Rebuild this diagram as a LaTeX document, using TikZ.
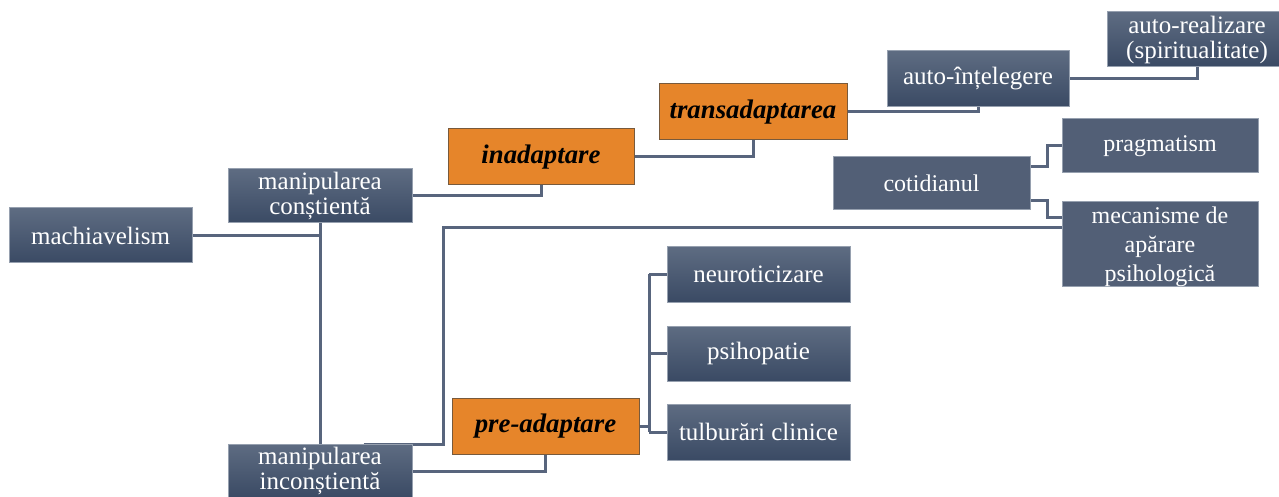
\documentclass[tikz,border=0pt]{standalone}
\usepackage{fontspec}
\setmainfont{Liberation Serif}
\usetikzlibrary{calc}
\pgfdeclarelayer{bg}
\pgfsetlayers{bg,main}
\definecolor{linec}{RGB}{88,101,125}
\definecolor{gtop}{RGB}{94,108,130}
\definecolor{gbot}{RGB}{58,74,100}
\definecolor{flatc}{RGB}{82,95,118}
\definecolor{orangec}{RGB}{230,133,42}
\definecolor{oborder}{RGB}{120,90,60}
\definecolor{bborder}{RGB}{150,160,175}
\tikzset{
  gbox/.style={rectangle, draw=bborder, line width=0.5pt, top color=gtop, bottom color=gbot,
    text=white, align=center, inner sep=0pt, font=\fontsize{12.5}{12.5}\selectfont},
  fbox/.style={rectangle, draw=bborder, line width=0.5pt, fill=flatc,
    text=white, align=center, inner sep=0pt, font=\fontsize{12}{14.5}\selectfont},
  obox/.style={rectangle, draw=oborder, line width=0.5pt, fill=orangec,
    text=black, align=center, inner sep=0pt, font=\fontsize{13.4}{14}\selectfont\bfseries\itshape},
  conn/.style={draw=linec, line width=1.5pt},
}
\begin{document}
\begin{tikzpicture}[x=0.5pt,y=-0.5pt]
\useasboundingbox (0,0) rectangle (1279,497);
% nodes
\node[gbox, minimum width=91.5pt, minimum height=27.5pt] (mach) at (100.5,235.5) {machiavelism};
\node[gbox, minimum width=92pt, minimum height=27pt] (consc) at (320,196) {manipularea\\conștientă};
\node[gbox, minimum width=92pt, minimum height=27pt] (inconsc) at (320,471) {manipularea\\inconștientă};
\node[obox, minimum width=93pt, minimum height=28pt] (inad) at (541,157) {inadaptare};
\node[obox, minimum width=94pt, minimum height=28pt] (trans) at (753,112) {transadaptarea};
\node[obox, minimum width=93.5pt, minimum height=28pt] (pre) at (545.5,426) {pre-adaptare};
\node[gbox, minimum width=91pt, minimum height=28pt] (autoint) at (978,79) {auto-înțelegere};
\node[gbox, minimum width=90pt, minimum height=27.5pt] (autoreal) at (1197,39.5) {auto-realizare\\(spiritualitate)};
\node[fbox, minimum width=98.5pt, minimum height=26.5pt] (cot) at (931.5,183.5) {cotidianul};
\node[fbox, minimum width=98pt, minimum height=27pt] (prag) at (1160,146) {pragmatism};
\node[fbox, minimum width=98pt, minimum height=42pt, text depth=-3pt] (mec) at (1160,244) {mecanisme de\\apărare\\psihologică};
\node[gbox, minimum width=91.5pt, minimum height=27.5pt] (neuro) at (758.5,274.5) {neuroticizare};
\node[gbox, minimum width=91.5pt, minimum height=27.5pt] (psih) at (758.5,353.5) {psihopatie};
\node[gbox, minimum width=91.5pt, minimum height=28pt] (tulb) at (758.5,432) {tulburări clinice};
% connector joints
\coordinate (m1) at (443,228);
\coordinate (pj) at (649,426);
\begin{pgfonlayer}{bg}
\draw[conn] (mach.east) -- (mach.east -| consc.south);
\draw[conn] (consc.south) -- (inconsc.north);
\draw[conn] (consc.east) -| (inad.south);
\draw[conn] (inad.east) -| (trans.south);
\draw[conn] ($(inad.south east)+(0,-2)$) -- ($(inad.south east)+(0,-2)$ -| cot.west);
\draw[conn] (trans.east) -| (autoint.south);
\draw[conn] (autoint.east) -| (autoreal.south);
\draw[conn] ($(cot.east)+(0,-17)$) -| ($(cot.east)+(17,-17)$) |- (prag.west);
\draw[conn] ($(cot.east)+(0,17)$) -| ($(cot.east)+(17,17)$) |- ($(mec.west)+(0,-26)$);
\draw[conn] ($(inconsc.north east)+(-49,1)$) -| (m1) -- (m1 -| mec.west);
\draw[conn] (inconsc.east) -| (pre.south);
\draw[conn] (pre.east) -- (pj);
\draw[conn] (pj |- neuro.west) -- (pj |- tulb.west);
\draw[conn] (pj |- neuro.west) -- (neuro.west);
\draw[conn] (pj |- psih.west) -- (psih.west);
\draw[conn] (pj |- tulb.west) -- (tulb.west);
\end{pgfonlayer}
\end{tikzpicture}
\end{document}
